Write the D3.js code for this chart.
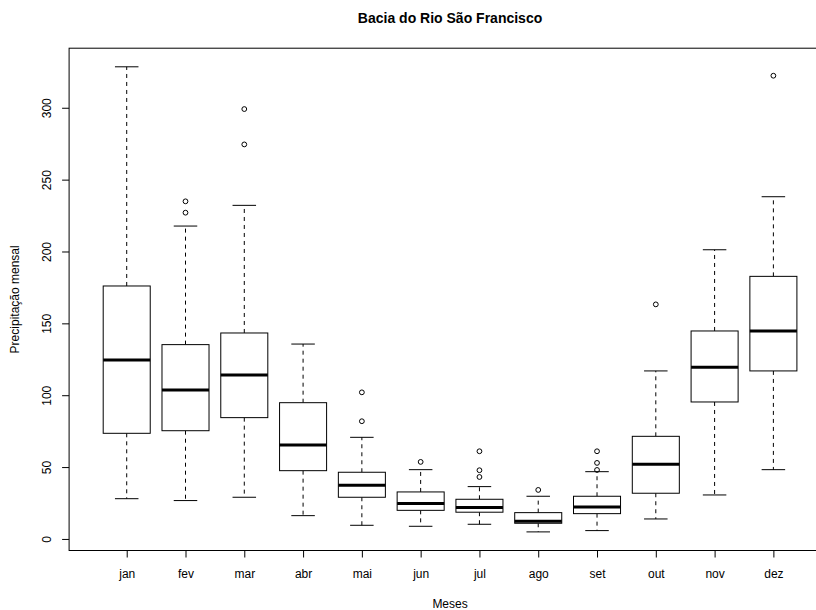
<!DOCTYPE html>
<html>
<head>
<meta charset="utf-8">
<script src="https://cdn.jsdelivr.net/npm/d3@7"></script>
<style>
  html, body { margin: 0; padding: 0; background: #fff; }
  svg { display: block; }
  text { font-family: "Liberation Sans", Arial, sans-serif; fill: #000; }
</style>
</head>
<body>
<svg id="chart" width="816" height="610"></svg>
<script>
const months = ["jan","fev","mar","abr","mai","jun","jul","ago","set","out","nov","dez"];
const lowerWhisker = [28, 26.7, 29, 16.2, 9.5, 8.8, 10.2, 4.9, 5.8, 13.9, 30.6, 48.2];
const q1 = [73.5, 75.3, 84.4, 47.5, 29, 19.9, 18.6, 10.9, 17.6, 31.8, 95.3, 116.9];
const medians = [124.5, 103.6, 114.1, 65.4, 37.3, 24.6, 21.8, 12.3, 22.3, 52, 119.4, 144.7];
const q3 = [176, 135.2, 143.3, 94.8, 46.4, 32.7, 27.6, 18.3, 29.7, 71.4, 144.7, 182.7];
const upperWhisker = [328.5, 217.7, 232.1, 135.6, 70.7, 48.2, 36.4, 29.7, 46.8, 116.9, 201.2, 238.1];
const outliers = [[], [234.9, 227], [299.1, 274.5], [], [102, 81.9], [53.6], [61, 47.8, 43.1], [34.1], [61, 52.9, 48], [163.2], [], [322.3]];
const yTicks = [0, 50, 100, 150, 200, 250, 300];
const title = "Bacia do Rio São Francisco";
const xTitle = "Meses";
const yTitle = "Precipitação mensal";

const svg = d3.select("#chart");
const plot = {left: 69.1, right: 831, top: 48.2, bottom: 550.5};

const allVals = lowerWhisker.concat(upperWhisker, outliers.flat());
const lo = d3.min(allVals), hi = d3.max(allVals);
const pad = (hi - lo) * 0.04;
const y = d3.scaleLinear().domain([lo - pad, hi + pad]).range([plot.bottom, plot.top]);
const n = months.length;
const x = d3.scaleLinear().domain([0.5 - 0.04 * n, n + 0.5 + 0.04 * n]).range([plot.left, plot.right]);
const bw = (x(2) - x(1)) * 0.8;
const sw = bw * 0.5;

// boxes
const data = months.map((m, i) => ({m, i: i + 1, lw: lowerWhisker[i], q1: q1[i], med: medians[i], q3: q3[i], uw: upperWhisker[i], out: outliers[i]}));
const g = svg.append("g");
const box = g.selectAll("g.box").data(data).enter().append("g").attr("class", "box");

// whiskers (dashed)
box.append("line")
  .attr("x1", d => x(d.i)).attr("x2", d => x(d.i))
  .attr("y1", d => y(d.q3)).attr("y2", d => y(d.uw))
  .attr("stroke", "#000").attr("stroke-dasharray", "4,4");
box.append("line")
  .attr("x1", d => x(d.i)).attr("x2", d => x(d.i))
  .attr("y1", d => y(d.q1)).attr("y2", d => y(d.lw))
  .attr("stroke", "#000").attr("stroke-dasharray", "4,4");
// staples
box.append("line")
  .attr("x1", d => x(d.i) - sw / 2).attr("x2", d => x(d.i) + sw / 2)
  .attr("y1", d => y(d.uw)).attr("y2", d => y(d.uw))
  .attr("stroke", "#000");
box.append("line")
  .attr("x1", d => x(d.i) - sw / 2).attr("x2", d => x(d.i) + sw / 2)
  .attr("y1", d => y(d.lw)).attr("y2", d => y(d.lw))
  .attr("stroke", "#000");
// box rect
box.append("rect")
  .attr("x", d => x(d.i) - bw / 2).attr("width", bw)
  .attr("y", d => y(d.q3)).attr("height", d => y(d.q1) - y(d.q3))
  .attr("fill", "#fff").attr("stroke", "#000");
// median
box.append("line")
  .attr("x1", d => x(d.i) - bw / 2).attr("x2", d => x(d.i) + bw / 2)
  .attr("y1", d => y(d.med)).attr("y2", d => y(d.med))
  .attr("stroke", "#000").attr("stroke-width", 3);
// outliers
box.selectAll("circle").data(d => d.out.map(v => ({i: d.i, v}))).enter().append("circle")
  .attr("cx", d => x(d.i)).attr("cy", d => y(d.v)).attr("r", 2.4)
  .attr("fill", "none").attr("stroke", "#000");

// frame
svg.append("rect")
  .attr("x", plot.left).attr("y", plot.top)
  .attr("width", plot.right - plot.left).attr("height", plot.bottom - plot.top)
  .attr("fill", "none").attr("stroke", "#000");

// y axis
const yAxis = svg.append("g").attr("transform", `translate(${plot.left},0)`)
  .call(d3.axisLeft(y).tickValues(yTicks).tickSize(7).tickSizeOuter(0).tickFormat(d3.format("d")));
yAxis.select(".domain").remove();
yAxis.selectAll("line").attr("stroke", "#000");
yAxis.selectAll("text")
  .attr("x", 0).attr("dy", null).attr("y", 0)
  .attr("transform", "translate(-18,0) rotate(-90)")
  .attr("text-anchor", "middle")
  .style("font-size", "12px").style("font-family", "Liberation Sans, Arial, sans-serif").attr("fill", "#000");

// x axis
const xAxis = svg.append("g").attr("transform", `translate(0,${plot.bottom})`)
  .call(d3.axisBottom(x).tickValues(d3.range(1, n + 1)).tickSize(7).tickSizeOuter(0).tickFormat(i => months[i - 1]));
xAxis.select(".domain").remove();
xAxis.selectAll("line").attr("stroke", "#000");
xAxis.selectAll("text")
  .attr("y", 27.5).attr("dy", null)
  .style("font-size", "12px").style("font-family", "Liberation Sans, Arial, sans-serif").attr("fill", "#000");

// titles
svg.append("text").attr("x", (plot.left + plot.right) / 2).attr("y", 23)
  .attr("text-anchor", "middle").style("font-size", "14px").style("font-weight", "bold").text(title);
svg.append("text").attr("x", (plot.left + plot.right) / 2).attr("y", 608)
  .attr("text-anchor", "middle").style("font-size", "12px").text(xTitle);
svg.append("text").attr("transform", `translate(19,${(plot.top + plot.bottom) / 2}) rotate(-90)`)
  .attr("text-anchor", "middle").style("font-size", "12px").text(yTitle);
</script>
</body>
</html>
